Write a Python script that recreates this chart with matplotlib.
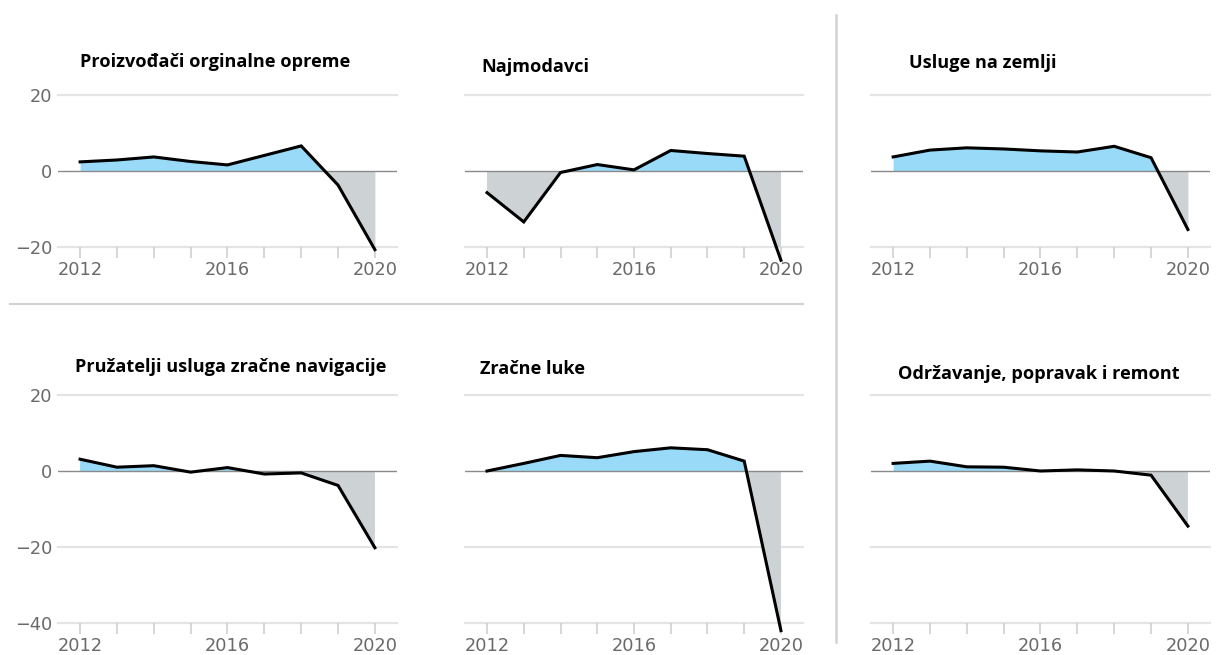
import numpy as np
import matplotlib.pyplot as plt

godine = list(range(2012, 2021))

naslovi = ["Proizvođači orginalne opreme", "Najmodavci", "Usluge na zemlji",
           "Pružatelji usluga zračne navigacije", "Zračne luke",
           "Održavanje, popravak i remont"]

proizvodaci = [2.4, 2.9, 3.7, 2.5, 1.6, 4.1, 6.6, -3.7, -20.7]
najmodavci = [-5.7, -13.4, -0.4, 1.7, 0.3, 5.4, 4.6, 3.9, -23.5]
usluge_zemlja = [3.7, 5.5, 6.1, 5.8, 5.3, 5.0, 6.5, 3.5, -15.4]
navigacija = [3.1, 1.0, 1.4, -0.3, 0.9, -0.8, -0.5, -3.8, -20.2]
zracne_luke = [0.0, 2.0, 4.1, 3.5, 5.1, 6.1, 5.6, 2.6, -42.0]
odrzavanje = [2.0, 2.6, 1.1, 1.0, 0.0, 0.3, 0.0, -1.1, -14.5]

serije = [proizvodaci, najmodavci, usluge_zemlja, navigacija, zracne_luke, odrzavanje]

ytick_gore = [-20, 0, 20]
ytick_dolje = [-40, -20, 0, 20]
xtick_oznake = [2012, 2016, 2020]

W, H = 1218, 655
fig = plt.figure(figsize=(W / 100, H / 100), dpi=100)

# pozicije u pikselima: lijevo, desno, gore, dolje
stupci = [(58, 397), (465, 803), (871, 1210)]
redovi = [(95, 247), (395, 623)]
naslov_poz = [(80, 62), (481, 67), (909, 63), (75, 367), (480, 369), (898, 374)]

plava = "#98daf7"
siva = "#cdd2d5"

for i, y in enumerate(serije):
    r, s = divmod(i, 3)
    x0, x1 = stupci[s]
    y0, y1 = redovi[r]
    ax = fig.add_axes([x0 / W, 1 - y1 / H, (x1 - x0) / W, (y1 - y0) / H])
    yt = ytick_gore if r == 0 else ytick_dolje
    ax.set_xlim(2011.4, 2020.6)
    ax.set_ylim(yt[0], yt[-1])
    y = np.array(y)
    ax.fill_between(godine, y, 0, where=y >= 0, interpolate=True, color=plava, lw=0)
    ax.fill_between(godine, y, 0, where=y <= 0, interpolate=True, color=siva, lw=0)
    for v in yt:
        if v == 0:
            ax.axhline(0, color="#8a8a8a", lw=1, zorder=2)
        else:
            ax.axhline(v, color="#e4e4e4", lw=1.6, zorder=0, clip_on=False)
    ax.plot(godine, y, color="black", lw=2.2, clip_on=False, zorder=5,
            solid_joinstyle="miter")
    for sp in ax.spines.values():
        sp.set_visible(False)
    ax.set_xticks(godine, minor=True)
    ax.set_xticks(xtick_oznake)
    ax.tick_params(axis="x", which="both", length=8, color="#cfcfcf", width=1.2,
                   direction="out")
    ax.tick_params(axis="x", labelsize=12.8, labelcolor="#6a6a6a", pad=2)
    ax.set_yticks(yt)
    ax.tick_params(axis="y", length=0, labelsize=12.8, labelcolor="#6a6a6a", pad=4)
    if s != 0:
        ax.set_yticklabels([])
    ax.patch.set_alpha(0)
    tx, ty = naslov_poz[i]
    fig.text(tx / W, 1 - ty / H, naslovi[i], ha="left", va="center",
             fontsize=13.1, fontweight="bold", family="Open Sans", color="black")

# razdjelnici
fig.add_artist(plt.Line2D([836 / W, 836 / W], [1 - 15 / H, 1 - 642 / H],
                          color="#d2d2d2", lw=1.8))
fig.add_artist(plt.Line2D([10 / W, 803 / W], [1 - 304 / H, 1 - 304 / H],
                          color="#d2d2d2", lw=1.5))

fig.savefig("out.png", dpi=100, facecolor="white")
